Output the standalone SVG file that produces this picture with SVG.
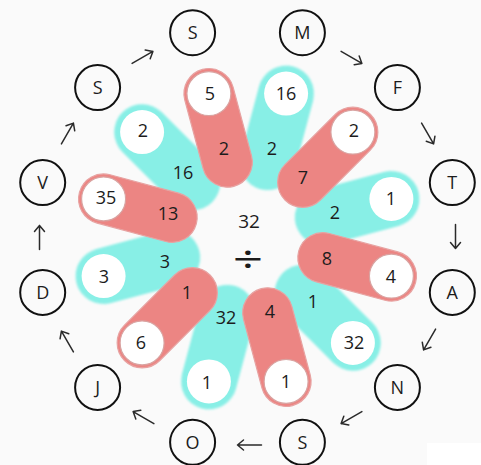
<svg xmlns="http://www.w3.org/2000/svg" xmlns:xlink="http://www.w3.org/1999/xlink" width="481" height="465" viewBox="0 0 481 465">
<style>
.bg{fill:#fafafa}
.cy{fill:#88efe6;filter:url(#soft)}
.rd{fill:#ec8583;stroke:#e7a3a2;stroke-width:1.2}
.wc{fill:#ffffff}
.wr{fill:#ffffff;stroke:#d9a3a1;stroke-width:1.2}
.t{font-family:"Open Sans","Liberation Sans",sans-serif;font-size:18px;fill:#1c1c1c;text-anchor:middle}
.lc{fill:none;stroke:#111;stroke-width:2}
.ar{fill:none;stroke:#2a2a2a;stroke-width:1.5;stroke-linecap:round;stroke-linejoin:round}
</style>
<defs>
<filter id="soft" x="-10%" y="-20%" width="120%" height="140%"><feGaussianBlur stdDeviation="1.2"/></filter>
<rect id="cap-c" x="50" y="-28" width="127" height="56" rx="28"/>
<rect id="cap-r" x="53" y="-25" width="121" height="50" rx="25"/>
<path id="arr" d="M-12,0 L12,0 M6,-5 L12,0 L6,5"/>
</defs>
<rect class="bg" x="0" y="0" width="481" height="465"/>
<rect fill="#ffffff" x="427" y="443" width="54" height="22"/>

<!-- cyan petals -->
<g id="petal-16">
<use href="#cap-c" class="cy" transform="translate(247.5,237.5) rotate(-75)"/>
<circle class="wc" cx="286.1" cy="93.6" r="22"/>
<text class="t" x="286" y="99.5">16</text>
<text class="t" x="272" y="154.5">2</text>
</g>
<g id="petal-1a">
<use href="#cap-c" class="cy" transform="translate(247.5,237.5) rotate(-15)"/>
<circle class="wc" cx="391.4" cy="198.9" r="22"/>
<text class="t" x="391" y="204.5">1</text>
<text class="t" x="335" y="218.5">2</text>
</g>
<g id="petal-32">
<use href="#cap-c" class="cy" transform="translate(247.5,237.5) rotate(45)"/>
<circle class="wc" cx="352.9" cy="342.9" r="22"/>
<text class="t" x="354" y="349">32</text>
<text class="t" x="313" y="307.5">1</text>
</g>
<g id="petal-1b">
<use href="#cap-c" class="cy" transform="translate(247.5,237.5) rotate(105)"/>
<circle class="wc" cx="208.9" cy="381.4" r="22"/>
<text class="t" x="207" y="388.5">1</text>
<text class="t" x="226" y="323.5">32</text>
</g>
<g id="petal-3">
<use href="#cap-c" class="cy" transform="translate(247.5,237.5) rotate(165)"/>
<circle class="wc" cx="103.6" cy="276.1" r="22"/>
<text class="t" x="104" y="282.5">3</text>
<text class="t" x="165" y="268">3</text>
</g>
<g id="petal-2a">
<use href="#cap-c" class="cy" transform="translate(247.5,237.5) rotate(225)"/>
<circle class="wc" cx="142.1" cy="132.1" r="22"/>
<text class="t" x="143" y="136.5">2</text>
<text class="t" x="183" y="179">16</text>
</g>

<!-- red petals -->
<g id="petal-5">
<use href="#cap-r" class="rd" transform="translate(247.5,237.5) rotate(-105)"/>
<circle class="wr" cx="208.9" cy="93.6" r="22"/>
<text class="t" x="210" y="100">5</text>
<text class="t" x="224" y="154.5">2</text>
</g>
<g id="petal-2b">
<use href="#cap-r" class="rd" transform="translate(247.5,237.5) rotate(-45)"/>
<circle class="wr" cx="352.9" cy="132.1" r="22"/>
<text class="t" x="354" y="136.5">2</text>
<text class="t" x="303" y="184">7</text>
</g>
<g id="petal-4">
<use href="#cap-r" class="rd" transform="translate(247.5,237.5) rotate(15)"/>
<circle class="wr" cx="391.4" cy="276.1" r="22"/>
<text class="t" x="391" y="282.5">4</text>
<text class="t" x="327" y="265">8</text>
</g>
<g id="petal-1c">
<use href="#cap-r" class="rd" transform="translate(247.5,237.5) rotate(75)"/>
<circle class="wr" cx="286.1" cy="381.4" r="22"/>
<text class="t" x="286" y="388">1</text>
<text class="t" x="270" y="318">4</text>
</g>
<g id="petal-6">
<use href="#cap-r" class="rd" transform="translate(247.5,237.5) rotate(135)"/>
<circle class="wr" cx="142.1" cy="342.9" r="22"/>
<text class="t" x="141" y="349">6</text>
<text class="t" x="187" y="299">1</text>
</g>
<g id="petal-35">
<use href="#cap-r" class="rd" transform="translate(247.5,237.5) rotate(195)"/>
<circle class="wr" cx="103.6" cy="198.9" r="22"/>
<text class="t" x="106" y="204">35</text>
<text class="t" x="168" y="219.5">13</text>
</g>

<!-- center -->
<g id="center">
<text class="t" x="249" y="227.5" style="font-size:19px">32</text>
<text class="t" x="0" y="0" style="font-size:38px" transform="translate(248,272.5) scale(1.4,1)">÷</text>
</g>

<!-- letter nodes -->
<g id="n-S1"><circle class="lc" cx="192.6" cy="32.7" r="22.5"/><text class="t" x="192.6" y="39">S</text></g>
<g id="n-M"><circle class="lc" cx="302.4" cy="32.7" r="22.5"/><text class="t" x="302.4" y="39">M</text></g>
<g id="n-F"><circle class="lc" cx="397.4" cy="87.6" r="22.5"/><text class="t" x="397.4" y="94">F</text></g>
<g id="n-T"><circle class="lc" cx="452.3" cy="182.6" r="22.5"/><text class="t" x="452.3" y="189">T</text></g>
<g id="n-A"><circle class="lc" cx="452.3" cy="292.4" r="22.5"/><text class="t" x="452.3" y="298.8">A</text></g>
<g id="n-N"><circle class="lc" cx="397.4" cy="387.4" r="22.5"/><text class="t" x="397.4" y="393.8">N</text></g>
<g id="n-S2"><circle class="lc" cx="302.4" cy="442.3" r="22.5"/><text class="t" x="302.4" y="448.7">S</text></g>
<g id="n-O"><circle class="lc" cx="192.6" cy="442.3" r="22.5"/><text class="t" x="192.6" y="448.7">O</text></g>
<g id="n-J"><circle class="lc" cx="97.6" cy="387.4" r="22.5"/><text class="t" x="97.6" y="393.8">J</text></g>
<g id="n-D"><circle class="lc" cx="42.7" cy="292.4" r="22.5"/><text class="t" x="42.7" y="298.8">D</text></g>
<g id="n-V"><circle class="lc" cx="42.7" cy="182.6" r="22.5"/><text class="t" x="42.7" y="189">V</text></g>
<g id="n-S3"><circle class="lc" cx="97.6" cy="87.6" r="22.5"/><text class="t" x="97.6" y="94">S</text></g>

<!-- connectors -->
<g id="connectors" class="ar">
<use href="#arr" transform="translate(351.5,57.4) rotate(30)"/>
<use href="#arr" transform="translate(427.6,133.5) rotate(60)"/>
<use href="#arr" transform="translate(455.5,236.5) rotate(90)"/>
<use href="#arr" transform="translate(429.6,339.5) rotate(120)"/>
<use href="#arr" transform="translate(351.5,417.6) rotate(150)"/>
<use href="#arr" transform="translate(249.5,445) rotate(180)"/>
<use href="#arr" transform="translate(143.5,417.6) rotate(210)"/>
<use href="#arr" transform="translate(67.4,341.5) rotate(240)"/>
<use href="#arr" transform="translate(39.5,237.5) rotate(270)"/>
<use href="#arr" transform="translate(67.4,133.5) rotate(300)"/>
<use href="#arr" transform="translate(142.5,57.4) rotate(330)"/>
</g>
</svg>
